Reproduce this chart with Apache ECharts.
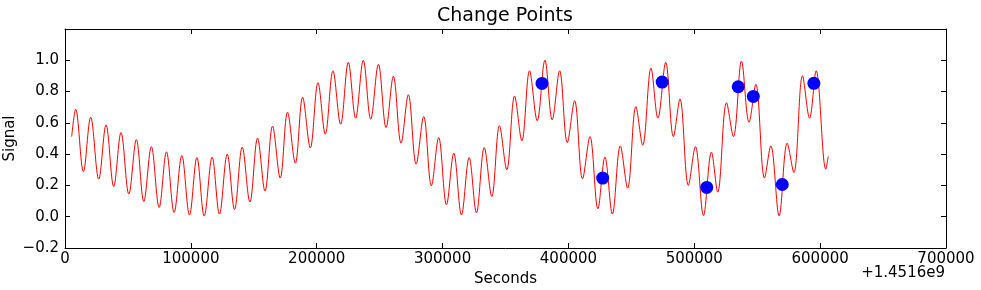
<!DOCTYPE html>
<html>
<head>
<meta charset="utf-8">
<title>Change Points</title>
<script src="https://cdn.jsdelivr.net/npm/echarts@6/dist/echarts.min.js"></script>
<style>
  html, body { margin: 0; padding: 0; background: #fff; }
  #main { width: 981px; height: 290px; }
</style>
</head>
<body>
<div id="main"></div>
<script>
var times = [5300, 8500, 14600, 20400, 26800, 32600, 38700, 44500, 50700, 56700,
  62600, 68600, 74800, 80600, 86700, 92800, 98900, 104800, 110600, 116900,
  122700, 128900, 134700, 140800, 146900, 153000, 158900, 164900, 171000, 176800,
  183000, 188800, 194900, 201000, 206800, 212900, 219000, 225100, 230900, 237000,
  242900, 249000, 255100, 260900, 267000, 272800, 279000, 285000, 291100, 296900,
  303100, 308900, 315000, 321100, 326900, 333100, 339100, 345200, 351000, 357200,
  363000, 369100, 375200, 381300, 387100, 393000, 399100, 404900, 411200, 417100,
  423400, 429000, 434900, 441200, 447000, 453600, 459000, 465600, 471100, 477300,
  483400, 488600, 495300, 500900, 507300, 513600, 518600, 525600, 531100, 537500,
  543500, 548900, 555800, 560800, 567400, 573800, 579100, 586000, 591600, 596800,
  604500, 606400]
var signal = [0.512, 0.687, 0.289, 0.636, 0.240, 0.587, 0.193, 0.538, 0.145, 0.493,
  0.097, 0.448, 0.059, 0.415, 0.027, 0.391, 0.011, 0.378, 0.004, 0.381,
  0.017, 0.400, 0.046, 0.445, 0.094, 0.502, 0.164, 0.579, 0.247, 0.668,
  0.342, 0.764, 0.440, 0.857, 0.528, 0.933, 0.591, 0.987, 0.630, 1.000,
  0.623, 0.974, 0.570, 0.898, 0.470, 0.780, 0.336, 0.640, 0.198, 0.506,
  0.076, 0.406, 0.012, 0.378, 0.025, 0.442, 0.129, 0.582, 0.300, 0.772,
  0.485, 0.933, 0.614, 1.000, 0.619, 0.933, 0.474, 0.742, 0.242, 0.512,
  0.051, 0.381, 0.017, 0.453, 0.183, 0.704, 0.457, 0.949, 0.630, 0.987,
  0.512, 0.753, 0.200, 0.448, 0.008, 0.413, 0.157, 0.729, 0.512, 0.995,
  0.604, 0.847, 0.247, 0.453, 0.006, 0.470, 0.282, 0.901, 0.630, 0.933,
  0.304, 0.385]

// change points
var changeTimes = [379000, 427200, 474500, 509900, 534900, 546900, 569900, 595000]
var changeValues = [0.852, 0.247, 0.861, 0.187, 0.831, 0.769, 0.206, 0.853]

var xTicks = [0, 100000, 200000, 300000, 400000, 500000, 600000, 700000]
var yTicks = [-0.2, 0.0, 0.2, 0.4, 0.6, 0.8, 1.0]

var font = 'DejaVu Sans'
var lineData = [], dotData = []
for (var i = 0; i < times.length; i++) {
  lineData.push([times[i], signal[i]])
}
for (var i = 0; i < changeTimes.length; i++) {
  dotData.push([changeTimes[i], changeValues[i]])
}

var chart = echarts.init(document.getElementById('main'), null, { renderer: 'canvas' })

var axisLine = { show: true, onZero: false, lineStyle: { color: '#000', width: 1 } }
var tick = { show: true, inside: true, length: 5, lineStyle: { color: '#000', width: 1 } }

var option = {
  animation: false,
  backgroundColor: '#fff',
  grid: { left: 65, right: 35, top: 29, bottom: 42, outerBoundsMode: 'none' },
  graphic: [
    {
      type: 'text', left: 505 - 68, top: 7,
      style: { text: 'Change Points', font: '19px "DejaVu Sans"', fill: '#000' }
    },
    {
      type: 'text', right: 36, top: 266,
      style: { text: '+1.4516e9', font: '15px "DejaVu Sans"', fill: '#000' }
    }
  ],
  xAxis: [
    {
      type: 'value', min: 0, max: 700000, interval: 100000,
      name: 'Seconds', nameLocation: 'middle', nameGap: 19,
      nameTextStyle: { fontFamily: font, fontSize: 15, color: '#000' },
      axisLine: axisLine, axisTick: tick, splitLine: { show: false },
      axisLabel: {
        fontFamily: font, fontSize: 15, color: '#000', margin: 4,
        customValues: xTicks,
        formatter: function (v) { return String(v) }
      }
    },
    {
      type: 'value', position: 'top', min: 0, max: 700000, interval: 100000,
      axisLine: axisLine, axisTick: tick, splitLine: { show: false },
      axisLabel: { show: false }
    }
  ],
  yAxis: [
    {
      type: 'value', min: -0.2, max: 1.2, interval: 0.2,
      name: 'Signal', nameLocation: 'middle', nameGap: 47, nameMoveOverlap: false,
      nameTextStyle: { fontFamily: font, fontSize: 15, color: '#000' },
      axisLine: axisLine, splitLine: { show: false },
      axisTick: Object.assign({ customValues: yTicks }, tick),
      axisLabel: {
        fontFamily: font, fontSize: 15, color: '#000', margin: 6,
        customValues: yTicks,
        formatter: function (v) { return (v < 0 ? '\u2212' : '') + Math.abs(v).toFixed(1) }
      }
    },
    {
      type: 'value', position: 'right', min: -0.2, max: 1.2, interval: 0.2,
      axisLine: axisLine, splitLine: { show: false },
      axisTick: Object.assign({ customValues: yTicks }, tick),
      axisLabel: { show: false }
    }
  ],
  series: [
    {
      type: 'line', data: lineData, smooth: 0.36,
      showSymbol: false, symbol: 'none',
      lineStyle: { color: '#ff0000', width: 1 },
      z: 2
    },
    {
      type: 'scatter', data: dotData, symbolSize: 13,
      itemStyle: { color: '#0000ff', opacity: 1 },
      z: 3
    }
  ]
}
chart.setOption(option)
</script>
</body>
</html>
